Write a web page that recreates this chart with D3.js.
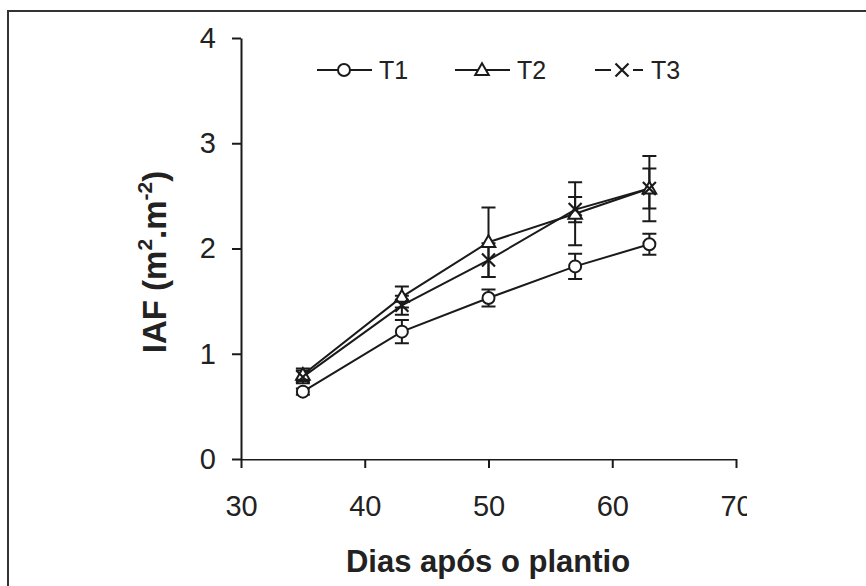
<!DOCTYPE html>
<html>
<head>
<meta charset="utf-8">
<script src="https://cdn.jsdelivr.net/npm/d3@7"></script>
<style>
  body { margin: 0; background: #fff; }
  svg { display: block; font-family: "Liberation Sans", Arial, sans-serif; }
</style>
</head>
<body>
<svg id="chart" width="866" height="586"></svg>
<script>
// days after planting
const days = [35, 43, 50, 57, 63];

// leaf area index per treatment, with error bar half-lengths
const t1 = [0.64, 1.21, 1.53, 1.83, 2.04];
const t1Err = [0.03, 0.11, 0.08, 0.12, 0.10];
const t2 = [0.80, 1.54, 2.06, 2.33, 2.57];
const t2Err = [0.06, 0.10, 0.33, 0.30, 0.31];
const t3 = [0.78, 1.46, 1.89, 2.37, 2.57];
const t3Err = [0.06, 0.09, 0.16, 0.12, 0.19];

const seriesNames = ["T1", "T2", "T3"];
const xTicks = [30, 40, 50, 60, 70];
const yTicks = [0, 1, 2, 3, 4];

const svg = d3.select("#chart");
const ink = "#1a1a1a";

// outer frame (only top and left edges show)
svg.append("path")
    .attr("d", "M8,600V11H880")
    .attr("fill", "none")
    .attr("stroke", "#333")
    .attr("stroke-width", 2);

const x = d3.scaleLinear().domain([30, 70]).range([241, 736]);
const y = d3.scaleLinear().domain([0, 4]).range([459, 38]);

// clip so the last x label gets cut like in the original
svg.append("clipPath").attr("id", "labclip")
    .append("rect").attr("x", 0).attr("y", 0).attr("width", 747).attr("height", 586);

const xAxis = svg.append("g")
    .attr("transform", "translate(0," + y(0) + ")")
    .attr("clip-path", "url(#labclip)")
    .call(d3.axisBottom(x).tickValues(xTicks).tickFormat(d3.format("d"))
        .tickSize(9).tickPadding(27).tickSizeOuter(0));

const yAxis = svg.append("g")
    .attr("transform", "translate(" + x(30) + ",0)")
    .call(d3.axisLeft(y).tickValues(yTicks).tickFormat(d3.format("d"))
        .tickSize(9).tickPadding(16).tickSizeOuter(0));

[xAxis, yAxis].forEach(g => {
    g.select(".domain").attr("stroke", ink).attr("stroke-width", 2);
    g.selectAll(".tick line").attr("stroke", ink).attr("stroke-width", 2);
    g.selectAll(".tick text")
        .attr("fill", "#222")
        .style("font-size", "29px")
        .style("font-family", "Liberation Sans, Arial, sans-serif");
});

// axis titles
svg.append("text")
    .attr("x", 488).attr("y", 572)
    .attr("text-anchor", "middle")
    .attr("font-weight", "bold")
    .attr("font-size", 31)
    .attr("fill", "#222")
    .text("Dias após o plantio");

const yTitle = svg.append("text")
    .attr("transform", "translate(166,262) rotate(-90)")
    .attr("text-anchor", "middle")
    .attr("font-weight", "bold")
    .attr("font-size", 33)
    .attr("fill", "#222");
yTitle.append("tspan").text("IAF (m");
yTitle.append("tspan").attr("font-size", 21).attr("dy", -14).text("2");
yTitle.append("tspan").attr("dy", 14).text(".m");
yTitle.append("tspan").attr("font-size", 21).attr("dy", -14).text("-2");
yTitle.append("tspan").attr("dy", 14).text(")");

// marker drawing
function drawMarker(g, kind, cx, cy) {
    if (kind === "T1") {
        g.append("circle").attr("cx", cx).attr("cy", cy).attr("r", 6)
            .attr("fill", "#fff").attr("stroke", ink).attr("stroke-width", 2);
    } else if (kind === "T2") {
        g.append("path")
            .attr("d", d3.symbol(d3.symbolTriangle, 80)())
            .attr("transform", "translate(" + cx + "," + (cy + 1) + ")")
            .attr("fill", "#fff").attr("stroke", ink).attr("stroke-width", 2);
    } else {
        const s = 6.5;
        g.append("path")
            .attr("d", "M" + (cx - s) + "," + (cy - s) + "L" + (cx + s) + "," + (cy + s) +
                "M" + (cx - s) + "," + (cy + s) + "L" + (cx + s) + "," + (cy - s))
            .attr("stroke", ink).attr("stroke-width", 2.2).attr("fill", "none");
    }
}

const series = [
    { name: "T1", vals: t1, err: t1Err },
    { name: "T2", vals: t2, err: t2Err },
    { name: "T3", vals: t3, err: t3Err }
];

const line = d3.line().x(d => x(d[0])).y(d => y(d[1]));
const plot = svg.append("g");

// error bars first
series.forEach(s => {
    const g = plot.append("g");
    days.forEach((d, i) => {
        const cx = x(d);
        const lo = y(s.vals[i] - s.err[i]);
        const hi = y(s.vals[i] + s.err[i]);
        g.append("path")
            .attr("d", "M" + cx + "," + lo + "V" + hi +
                "M" + (cx - 7) + "," + lo + "H" + (cx + 7) +
                "M" + (cx - 7) + "," + hi + "H" + (cx + 7))
            .attr("stroke", ink).attr("stroke-width", 2).attr("fill", "none");
    });
});

// lines and markers
series.forEach(s => {
    plot.append("path")
        .attr("d", line(days.map((d, i) => [d, s.vals[i]])))
        .attr("fill", "none").attr("stroke", ink).attr("stroke-width", 2);
});
series.forEach(s => {
    days.forEach((d, i) => drawMarker(plot, s.name, x(d), y(s.vals[i])));
});

// legend
const legendX = [317, 455, 595];
const legend = svg.append("g");
seriesNames.forEach((name, i) => {
    const lx = legendX[i];
    const ly = 70;
    if (name === "T3") {
        // the cross marker sits in a gap of the sample line
        legend.append("path")
            .attr("d", "M" + lx + "," + ly + "H" + (lx + 16) + "M" + (lx + 38) + "," + ly + "H" + (lx + 48))
            .attr("stroke", ink).attr("stroke-width", 2);
    } else {
        legend.append("line")
            .attr("x1", lx).attr("x2", lx + 55).attr("y1", ly).attr("y2", ly)
            .attr("stroke", ink).attr("stroke-width", 2);
    }
    drawMarker(legend, name, lx + 27, ly);
    legend.append("text")
        .attr("x", name === "T3" ? lx + 56 : lx + 62).attr("y", ly + 9)
        .attr("font-size", 25)
        .attr("fill", "#222")
        .text(name);
});
</script>
</body>
</html>
